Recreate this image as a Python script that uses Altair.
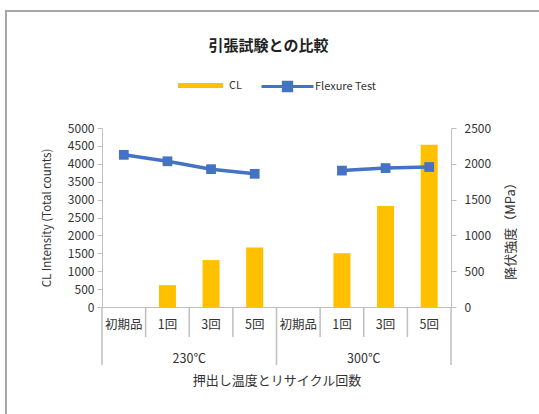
import altair as alt
import pandas as pd

# ---- data ----
groups = ['230℃', '230℃', '230℃', '230℃', '300℃', '300℃', '300℃', '300℃']
cycles = ['初期品', '1回', '3回', '5回', '初期品', '1回', '3回', '5回']
cl_values = [None, 610, 1310, 1665, None, 1500, 2820, 4535]
flex_values = [2125, 2035, 1925, 1860, None, 1905, 1940, 1955]
left_ticks = [0, 500, 1000, 1500, 2000, 2500, 3000, 3500, 4000, 4500, 5000]
right_ticks = [0, 500, 1000, 1500, 2000, 2500]

title_text = '引張試験との比較'
x_title = '押出し温度とリサイクル回数'
y_left_title = 'CL Intensity (Total counts)'
y_right_title = '降伏強度（MPa）'

keys = [f"{g}|{c}" for g, c in zip(groups, cycles)]
df = pd.DataFrame({'key': keys, 'group': groups, 'cycle': cycles,
                   'cl': cl_values, 'flex': flex_values})

W, H = 349, 179
GRAY = '#bfbfbf'
TXT = '#333333'
FONT = 'Noto Sans CJK JP'
BAR = '#FFC000'
LINE = '#4472C4'

xscale = alt.Scale(type='band', domain=keys, paddingInner=0, paddingOuter=0)
xaxis = alt.Axis(title=x_title, labelExpr="split(datum.value, '|')[1]",
                 labelAngle=0, ticks=False, domainColor=GRAY, domainWidth=1,
                 labelPadding=11, labelFontSize=12.5, labelColor=TXT,
                 titleY=73, titleBaseline='middle', titleFontSize=13,
                 titleFontWeight='normal', titleColor=TXT, labelFont=FONT,
                 titleFont=FONT)


def X(**kw):
    return alt.X('key:N', scale=xscale, axis=xaxis, **kw)


base = alt.Chart(df)

frame = alt.Chart(pd.DataFrame({'a': [0]})).mark_rect(
    filled=False, stroke='#a6a6a6', strokeWidth=2
).encode(x=alt.value(-96), x2=alt.value(460), y=alt.value(-117), y2=alt.value(300))

bars = base.transform_calculate(s="'CL'").mark_bar(
    width=alt.RelativeBandSize(0.39)
).encode(
    x=X(),
    y=alt.Y('cl:Q', scale=alt.Scale(domain=[0, 5000]),
            axis=alt.Axis(values=left_ticks, format='d', orient='left', title=y_left_title,
                          grid=False, domainColor=GRAY, tickColor=GRAY, tickSize=5,
                          labelPadding=3, labelFontSize=12, labelColor=TXT,
                          titleFontSize=11.5, titleFontWeight='normal', titleColor=TXT,
                          titleX=-55, titleY=H / 2, titleAngle=270, titleAlign='center',
                          titleBaseline='middle', labelFont=FONT, titleFont=FONT)),
    color=alt.Color('s:N', scale=alt.Scale(domain=['CL'], range=[BAR]),
                    legend=alt.Legend(title=None, orient='none', legendX=76, legendY=-65,
                                      symbolType='M-1,-0.11H1V0.11H-1Z', symbolSize=2025,
                                      symbolStrokeWidth=0, labelFontSize=11, labelOffset=6,
                                      labelColor=TXT, labelFont=FONT))
)

line = base.transform_filter('isValid(datum.flex)').transform_calculate(
    s2="'Flexure Test'"
).mark_line(strokeWidth=3.5).encode(
    x=X(),
    y=alt.Y('flex:Q', scale=alt.Scale(domain=[0, 2500]),
            axis=alt.Axis(values=right_ticks, format='d', orient='right', title=y_right_title,
                          grid=False, domainColor=GRAY, tickColor=GRAY, tickSize=5,
                          labelPadding=8, labelFontSize=12, labelColor=TXT,
                          titleFontSize=13, titleFontWeight='normal', titleColor=TXT,
                          titleX=59, titleY=H / 2 + 10, titleAngle=270, titleAlign='center',
                          titleBaseline='middle', labelFont=FONT, titleFont=FONT)),
    detail='group:N',
    color=alt.Color('s2:N', scale=alt.Scale(domain=['Flexure Test'], range=[LINE]),
                    legend=alt.Legend(title=None, orient='none', legendX=158, legendY=-69,
                                      symbolType='M-1,0H1M-0.16,-0.16H0.16V0.16H-0.16Z',
                                      symbolSize=2704, symbolStrokeWidth=3,
                                      symbolFillColor=LINE, symbolStrokeColor=LINE,
                                      labelFontSize=11, labelOffset=0,
                                      labelColor=TXT, labelFont=FONT))
)

points = base.transform_filter('isValid(datum.flex)').mark_square(
    size=95, color=LINE, opacity=1
).encode(
    x=X(),
    y=alt.Y('flex:Q', scale=alt.Scale(domain=[0, 2500]), axis=None),
)

rules_short = base.transform_filter("datum.cycle != '初期品'").mark_rule(
    color=GRAY, strokeWidth=1.5
).encode(x=X(bandPosition=0), y=alt.value(H), y2=alt.value(H + 30))

rules_long = base.transform_filter("datum.cycle == '初期品'").mark_rule(
    color=GRAY, strokeWidth=1.5
).encode(x=X(bandPosition=0), y=alt.value(H), y2=alt.value(H + 58))

rules_end = base.transform_filter(f"datum.key == '{keys[-1]}'").mark_rule(
    color=GRAY, strokeWidth=1.5
).encode(x=X(bandPosition=1), y=alt.value(H), y2=alt.value(H + 58))

group_text = base.transform_filter("datum.cycle == '3回'").mark_text(
    fontSize=12.5, color=TXT, font=FONT, baseline='middle'
).encode(x=X(bandPosition=0), y=alt.value(H + 52), text='group:N')

chart = alt.layer(
    frame, bars, line, points, rules_short, rules_long, rules_end, group_text
).resolve_scale(
    y='independent', color='independent'
).resolve_legend(color='independent').properties(
    width=W, height=H,
    autosize=alt.AutoSizeParams(type='none'),
    padding={'left': 102, 'top': 128, 'right': 88, 'bottom': 107},
    title=alt.TitleParams(title_text, fontSize=15, fontWeight='bold', font=FONT,
                          color='#222222', anchor='middle', dx=-8, dy=48),
).configure_view(stroke=None)

chart.save("out.html", embed_options={"renderer": "svg", "actions": False})
